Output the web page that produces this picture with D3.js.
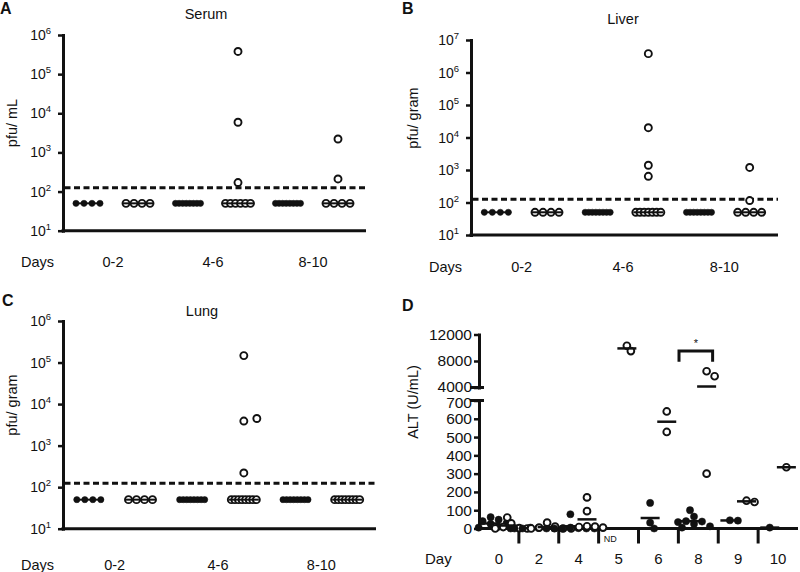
<!DOCTYPE html>
<html><head><meta charset="utf-8">
<script src="https://cdn.jsdelivr.net/npm/d3@7"></script>
<style>
body{margin:0;background:#fff}
svg{display:block}
text{font-family:"Liberation Sans",Arial,Helvetica,sans-serif;fill:#111}
</style>
</head><body>
<svg id="chart" width="800" height="572"></svg>
<script>
// ---------------- data ----------------
const dayRanges = ["0-2", "4-6", "8-10"];
const groupsKind = ["closed", "open"];
const lod = 125;
const logTickValues = [10, 100, 1000, 10000, 100000, 1000000, 10000000];

const serumClosed = [[50, 50, 50, 50], [50, 50, 50, 50, 50, 50, 50, 50], [50, 50, 50, 50, 50, 50, 50, 50]];
const serumOpen = [[50, 50, 50, 50], [380000, 5900, 170, 50, 50, 50, 50, 50, 50], [2200, 210, 50, 50, 50, 50]];

const liverClosed = [[50, 50, 50, 50], [50, 50, 50, 50, 50, 50, 50, 50], [50, 50, 50, 50, 50, 50, 50, 50]];
const liverOpen = [[50, 50, 50, 50], [3800000, 20000, 1400, 640, 50, 50, 50, 50, 50, 50, 50], [1200, 115, 50, 50, 50, 50]];

const lungClosed = [[50, 50, 50, 50], [50, 50, 50, 50, 50, 50, 50, 50], [50, 50, 50, 50, 50, 50, 50, 50]];
const lungOpen = [[50, 50, 50, 50], [147000, 3900, 4500, 220, 50, 50, 50, 50, 50, 50, 50, 50], [50, 50, 50, 50, 50, 50, 50, 50]];

const altDays = ["0", "2", "4", "5", "6", "8", "9", "10"];
const altClosed = [[62, 48, 40, 30, 25, 10, 5, 0], [5, 3, 0, 0, 0, 0], [78, 5, 2, 0, 0, 0, 0], [], [140, 32, 0], [100, 65, 40, 38, 35, 25, 12, 5], [45, 43], [5]];
const altOpen = [[60, 28, 8, 2, 0, 0], [32, 10, 5, 0, 0, 0], [170, 95, 12, 10, 8, 5], [10300, 9500], [640, 528], [6450, 5700, 300], [152, 145], [335]];
const altLowTicks = [0, 100, 200, 300, 400, 500, 600, 700];
const altHighTicks = [4000, 8000, 12000];
const notDone = "ND";
const sigMark = "*";

// ---------------- drawing ----------------
const INK = "#111";
const svg = d3.select("#chart");

function layoutLog(values, cx, yf) {
  const counts = d3.rollup(values, v => v.length, d => d);
  const pts = [];
  counts.forEach((n, v) => {
    if (n > 1) {
      const step = Math.min(8, 25 / (n - 1));
      for (let i = 0; i < n; i++) pts.push({ v, y: yf(v), x: cx + (i - (n - 1) / 2) * step });
    }
  });
  const uniq = values.filter(v => counts.get(v) === 1).sort((a, b) => a - b);
  const placed = [];
  uniq.forEach(v => {
    const p = { v, y: yf(v) };
    for (let k = 0; k < 20; k++) {
      const off = k === 0 ? 0 : (k % 2 ? 1 : -1) * Math.ceil(k / 2) * 13;
      if (placed.every(q => Math.hypot(q.x - (cx + off), q.y - p.y) >= 9)) { p.x = cx + off; break; }
    }
    placed.push(p); pts.push(p);
  });
  return pts;
}

function swarm(values, cx, yf, minDist, step) {
  const pts = values.map(v => ({ v, y: yf(v) })).sort((a, b) => b.v - a.v);
  const placed = [];
  pts.forEach(p => {
    for (let k = 0; k < 40; k++) {
      const off = k === 0 ? 0 : (k % 2 ? 1 : -1) * Math.ceil(k / 2) * step;
      if (placed.every(q => Math.hypot(q.x - (cx + off), q.y - p.y) >= minDist)) { p.x = cx + off; break; }
    }
    placed.push(p);
  });
  return pts;
}

function logPanel(c) {
  const g = svg.append("g");
  const y = d3.scaleLog().domain([10, c.max]).range([c.yBot, c.yTop]);
  const xb = d3.scaleBand().domain(dayRanges).range([c.x0, c.x1 - 3]);
  const xs = d3.scalePoint().domain(groupsKind).range([0, xb.bandwidth()]).padding(0.5);

  const ticks = logTickValues.filter(t => t <= c.max);
  const ax = g.append("g").attr("transform", `translate(${c.x0},0)`)
    .call(d3.axisLeft(y).tickValues(ticks).tickSize(5).tickSizeOuter(0).tickFormat(""));
  ax.select(".domain").attr("stroke", INK).attr("stroke-width", 3).attr("stroke-linecap", "square");
  ax.selectAll(".tick line").attr("stroke", INK).attr("stroke-width", 2.5);
  ax.selectAll(".tick text").remove();
  ticks.forEach(t => {
    const tx = g.append("text").attr("x", c.x0 - 12).attr("y", y(t)).attr("dy", "0.36em")
      .attr("text-anchor", "end").attr("font-size", 14);
    tx.append("tspan").text("10");
    tx.append("tspan").attr("dy", -6).attr("font-size", 9.5).text(String(Math.round(Math.log10(t))));
  });
  g.append("line").attr("x1", c.x0 - 1.5).attr("x2", c.x1).attr("y1", y(10)).attr("y2", y(10))
    .attr("stroke", INK).attr("stroke-width", 3);

  g.append("line").attr("x1", c.x0 + 1.5).attr("x2", c.x1).attr("y1", y(lod)).attr("y2", y(lod))
    .attr("stroke", INK).attr("stroke-width", 3).attr("stroke-dasharray", "6,3.5");

  dayRanges.forEach((d, i) => {
    groupsKind.forEach(kind => {
      const vals = (kind === "closed" ? c.closed : c.open)[i];
      const cx = xb(d) + xs(kind);
      const pts = layoutLog(vals, cx, y);
      g.selectAll(null).data(pts).enter().append("circle")
        .attr("cx", p => p.x).attr("cy", p => p.y)
        .attr("r", kind === "closed" ? 3.1 : 3.5)
        .attr("fill", kind === "closed" ? INK : "#fff")
        .attr("stroke", INK).attr("stroke-width", kind === "closed" ? 0.5 : 1.9);
      const med = d3.median(vals);
      g.append("line").attr("x1", cx - 15).attr("x2", cx + 15).attr("y1", y(med)).attr("y2", y(med))
        .attr("stroke", INK).attr("stroke-width", 2);
    });
    g.append("text").attr("x", xb(d) + xb.bandwidth() / 2).attr("y", c.daysY)
      .attr("text-anchor", "middle").attr("font-size", 14.5).text(d);
  });
  g.append("text").attr("x", c.x0 - 42).attr("y", c.daysY).attr("font-size", 14.5).text("Days");
  g.append("text").attr("x", c.titleX).attr("y", c.titleY).attr("text-anchor", "middle").attr("font-size", 14.5).text(c.title);
  g.append("text").attr("transform", `translate(${c.ylabX},${c.ylabY}) rotate(-90)`)
    .attr("text-anchor", "middle").attr("font-size", 14.5).text(c.ylabel);
  g.append("text").attr("x", c.letterX).attr("y", c.letterY).attr("font-size", 16).attr("font-weight", "bold").text(c.letter);
}

logPanel({ x0: 63, x1: 366, yTop: 35, yBot: 230.7, max: 1e6, closed: serumClosed, open: serumOpen,
  title: "Serum", titleX: 206, titleY: 19, ylabel: "pfu/ mL", ylabX: 17, ylabY: 123,
  letter: "A", letterX: 0, letterY: 14, daysY: 267 });
logPanel({ x0: 471, x1: 778, yTop: 40, yBot: 235, max: 1e7, closed: liverClosed, open: liverOpen,
  title: "Liver", titleX: 623, titleY: 23.5, ylabel: "pfu/ gram", ylabX: 418, ylabY: 118,
  letter: "B", letterX: 402, letterY: 14, daysY: 272 });
logPanel({ x0: 63, x1: 376, yTop: 321, yBot: 528.7, max: 1e6, closed: lungClosed, open: lungOpen,
  title: "Lung", titleX: 202, titleY: 315.5, ylabel: "pfu/ gram", ylabX: 17, ylabY: 405,
  letter: "C", letterX: 2, letterY: 306, daysY: 570 });

// ---------------- panel D ----------------
(function () {
  const g = svg.append("g");
  const x0 = 479, x1 = 798;
  const yLow = d3.scaleLinear().domain([0, 700]).range([528.5, 400.5]);
  const yHigh = d3.scaleLinear().domain([4000, 12000]).range([387.5, 334.5]);
  const yD = v => v > 700 ? yHigh(v) : yLow(v);
  const xd = d3.scaleBand().domain(altDays).range([x0, x1]);
  const xs = d3.scalePoint().domain(groupsKind).range([0, xd.bandwidth()]).padding(0.7);

  const axL = g.append("g").attr("transform", `translate(${x0},0)`)
    .call(d3.axisLeft(yLow).tickValues(altLowTicks).tickSize(5).tickSizeOuter(0).tickFormat(d3.format("d")));
  const axH = g.append("g").attr("transform", `translate(${x0},0)`)
    .call(d3.axisLeft(yHigh).tickValues(altHighTicks).tickSize(5).tickSizeOuter(0).tickFormat(d3.format("d")));
  [axL, axH].forEach(a => {
    a.select(".domain").attr("stroke", INK).attr("stroke-width", 3).attr("stroke-linecap", "square");
    a.selectAll(".tick line").attr("stroke", INK).attr("stroke-width", 2.5);
    a.selectAll(".tick text").attr("fill", INK).attr("font-size", 15.5).attr("x", -7)
      .attr("font-family", "Liberation Sans, Arial, sans-serif");
  });
  axH.selectAll(".tick text").filter(v => v === 4000).attr("dy", "0.25em");
  axL.selectAll(".tick text").filter(v => v === 700).attr("dy", "0.45em");
  [yHigh(4000), yLow(700)].forEach(yy => {
    g.append("line").attr("x1", x0 - 9).attr("x2", x0 + 5).attr("y1", yy).attr("y2", yy)
      .attr("stroke", INK).attr("stroke-width", 3);
  });
  g.append("line").attr("x1", x0 - 1.5).attr("x2", x1).attr("y1", yLow(0)).attr("y2", yLow(0))
    .attr("stroke", INK).attr("stroke-width", 3);
  altDays.slice(1).forEach(d => {
    g.append("line").attr("x1", xd(d)).attr("x2", xd(d)).attr("y1", yLow(0)).attr("y2", yLow(0) + 15)
      .attr("stroke", INK).attr("stroke-width", 3);
  });

  altDays.forEach((d, i) => {
    groupsKind.forEach(kind => {
      const vals = (kind === "closed" ? altClosed : altOpen)[i];
      const cx = xd(d) + xs(kind);
      if (!vals.length) {
        g.append("text").attr("x", cx).attr("y", yLow(0) + 13).attr("text-anchor", "middle")
          .attr("font-size", 9).text(notDone);
        return;
      }
      const pts = swarm(vals, cx, yD, 6.5, 4);
      g.selectAll(null).data(pts).enter().append("circle")
        .attr("cx", p => p.x).attr("cy", p => p.y)
        .attr("r", kind === "closed" ? 3.6 : 3.4)
        .attr("fill", kind === "closed" ? INK : "#fff")
        .attr("stroke", INK).attr("stroke-width", kind === "closed" ? 0.5 : 1.9);
      const m = d3.mean(vals);
      g.append("line").attr("x1", cx - 9.5).attr("x2", cx + 9.5).attr("y1", yD(m)).attr("y2", yD(m))
        .attr("stroke", INK).attr("stroke-width", 2.5);
    });
    g.append("text").attr("x", xd(d) + xd.bandwidth() / 2).attr("y", 564)
      .attr("text-anchor", "middle").attr("font-size", 15).text(d);
  });
  g.append("text").attr("x", 425).attr("y", 564).attr("font-size", 15).text("Day");

  const bx0 = xd("8") + xs("closed") - 11, bx1 = xd("8") + xs("open") + 6;
  const bTop = yD(9500), bLeg = yD(7900);
  g.append("path").attr("d", `M${bx0},${bLeg}V${bTop}H${bx1}V${bLeg}`)
    .attr("fill", "none").attr("stroke", INK).attr("stroke-width", 3);
  g.append("text").attr("x", (bx0 + bx1) / 2).attr("y", bTop - 4).attr("text-anchor", "middle")
    .attr("font-size", 11).text(sigMark);

  g.append("text").attr("transform", "translate(418,402) rotate(-90)")
    .attr("text-anchor", "middle").attr("font-size", 14.5).text("ALT (U/mL)");
  g.append("text").attr("x", 402).attr("y", 311).attr("font-size", 16).attr("font-weight", "bold").text("D");
})();
</script>
</body></html>
